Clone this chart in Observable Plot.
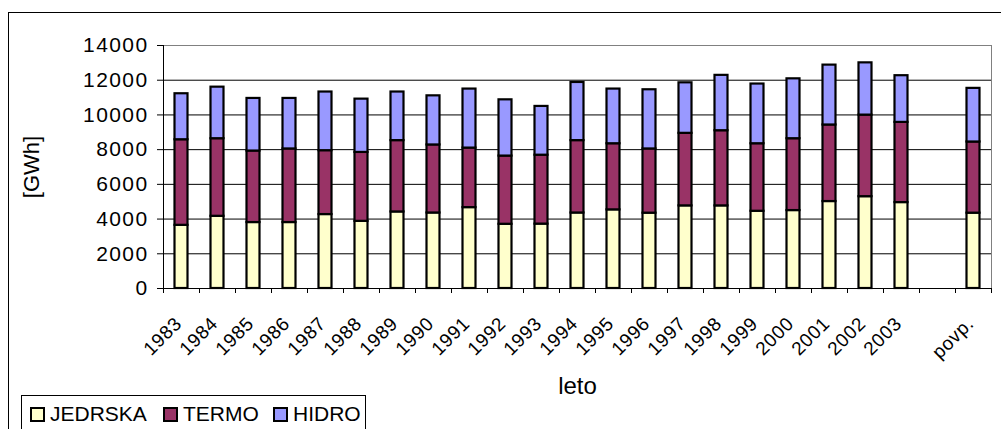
<!DOCTYPE html>
<html>
<head>
<meta charset="utf-8">
<script src="https://cdn.jsdelivr.net/npm/d3@7"></script>
<script src="https://cdn.jsdelivr.net/npm/@observablehq/plot@0.6"></script>
<style>
  html, body { margin: 0; padding: 0; background: #fff; }
  #wrap { position: relative; width: 1001px; height: 429px; overflow: hidden; font-family: Arial, "Liberation Sans", sans-serif; }
  #border { position: absolute; left: 8px; top: 12px; width: 1200px; height: 600px; border: 1px solid #000; box-sizing: border-box; }
  #chart { position: absolute; left: 0; top: 0; }
  #chart g[aria-label="y-axis tick label"] text { font-size: 21px; letter-spacing: 1.4px; }
  #chart g[aria-label="x-axis tick label"] text { font-size: 19px; letter-spacing: 0.6px; }
  #chart g[aria-label="x-axis label"] text { font-size: 24px; }
  #chart g[aria-label="y-axis label"] text { font-size: 22px; }
  #legend { position: absolute; left: 21px; top: 395px; width: 345px; height: 60px; border: 1px solid #000; box-sizing: border-box; background: #fff;
            font-size: 21px; color: #000; white-space: nowrap; }
  #legend .item { position: absolute; top: 6px; line-height: 24px; }
  #legend .sw { display: inline-block; width: 11px; height: 11px; border: 2px solid #000; vertical-align: -1px; margin-right: 5px; }
</style>
</head>
<body>
<div id="wrap">
  <div id="border"></div>
  <div id="chart"></div>
  <div id="legend"></div>
</div>
<script>
// Electricity production by source, 1983–2003, with the period average (povp.)
const years = ["1983","1984","1985","1986","1987","1988","1989","1990","1991","1992","1993",
               "1994","1995","1996","1997","1998","1999","2000","2001","2002","2003"];
const categories = [...years, "povp."];

const jedrska = [3640, 4160, 3800, 3800, 4260, 3870, 4410, 4350, 4660, 3700, 3710,
                 4350, 4530, 4340, 4760, 4760, 4450, 4490, 5010, 5290, 4950, 4340];
const termo   = [4930, 4470, 4120, 4240, 3680, 3970, 4110, 3920, 3430, 3930, 3970,
                 4170, 3810, 3700, 4180, 4330, 3890, 4140, 4410, 4700, 4620, 4100];
const hidro   = [2650, 2970, 3030, 2910, 3380, 3070, 2800, 2830, 3400, 3240, 2810,
                 3350, 3150, 3410, 2910, 3190, 3440, 3450, 3450, 3010, 2690, 3090];

const sources = ["JEDRSKA", "TERMO", "HIDRO"];
const colors = ["#FFFFCC", "#993366", "#9999FF"];
const yTicks = [0, 2000, 4000, 6000, 8000, 10000, 12000, 14000];

// x slots: the years, one empty gap, then the average
const slots = [...years, "", "povp."];

const series = {JEDRSKA: jedrska, TERMO: termo, HIDRO: hidro};
const rows = categories.flatMap((leto, i) =>
  sources.map(vir => ({leto, vir, gwh: series[vir][i]})));

const chart = Plot.plot({
  width: 1001,
  height: 429,
  marginLeft: 163,
  marginRight: 10,
  marginTop: 45,
  marginBottom: 141,
  style: {fontFamily: "Arial, 'Liberation Sans', sans-serif", fontSize: "19px", color: "#000", background: "transparent", overflow: "visible"},
  x: {domain: slots, padding: 0, axis: null},
  y: {domain: [0, 14000], axis: null},
  color: {domain: sources, range: colors},
  marks: [
    Plot.gridY(yTicks, {stroke: "#000", strokeOpacity: 1}),
    Plot.ruleY([14000], {stroke: "#808080"}),
    Plot.barY(rows, Plot.stackY({
      x: "leto", y: "gwh", fill: "vir", order: sources,
      stroke: "#000", strokeWidth: 2.2, insetLeft: 11.5, insetRight: 11.5
    })),
    Plot.ruleY([0], {stroke: "#000"}),
    Plot.ruleX([slots[0]], {dx: -18, y1: 0, y2: 14000, stroke: "#000"}),
    Plot.ruleX(["povp."], {dx: 18, y1: 0, y2: 14000, stroke: "#808080"}),
    Plot.axisX(slots, {tickSize: 5, dx: -18, tickFormat: () => "", label: null}),
    Plot.axisX(["povp."], {tickSize: 5, dx: 18, tickFormat: () => "", label: null}),
    Plot.axisX({tickSize: 0, tickRotate: -45, tickPadding: 22, dx: -3, dy: 10,
                label: "leto", labelAnchor: "center", labelOffset: 105, labelArrow: false}),
    Plot.axisY(yTicks, {tickSize: 6, tickPadding: 9, tickFormat: d => String(d),
                label: "[GWh]", labelAnchor: "center", labelOffset: 140, labelArrow: false})
  ]
});
document.getElementById("chart").appendChild(chart);

// legend
const legend = document.getElementById("legend");
const lefts = [8, 141, 251];
sources.forEach((s, i) => {
  const item = document.createElement("div");
  item.className = "item";
  item.style.left = lefts[i] + "px";
  const sw = document.createElement("span");
  sw.className = "sw";
  sw.style.background = colors[i];
  item.appendChild(sw);
  item.appendChild(document.createTextNode(s));
  legend.appendChild(item);
});
</script>
</body>
</html>
